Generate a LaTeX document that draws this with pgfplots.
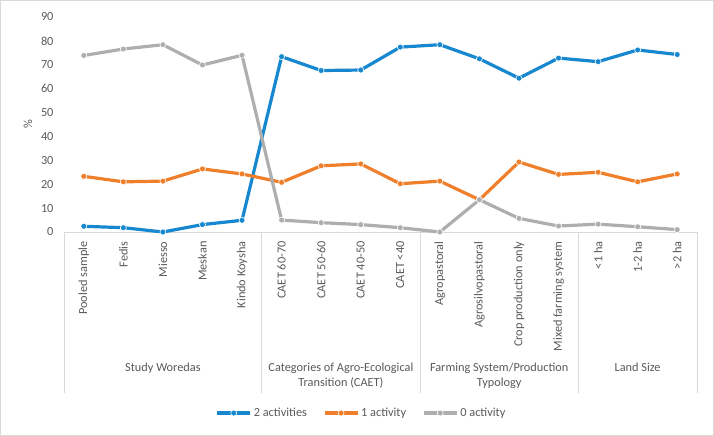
\documentclass[border=0pt]{standalone}
\usepackage{pgfplots}
\pgfplotsset{compat=1.18}
\usepackage{fontspec}
\setmainfont{Carlito}
\definecolor{cblue}{HTML}{1788D0}
\definecolor{corange}{HTML}{F07F2B}
\definecolor{cgray}{HTML}{AEAEAE}
\definecolor{ctext}{HTML}{595959}
\definecolor{cline}{HTML}{D9D9D9}
\newcommand{\fs}{\fontsize{12.3bp}{15.3bp}\selectfont}
\begin{document}
\begin{tikzpicture}
\path[use as bounding box] (0,0) rectangle (714bp,436bp);
\draw[cline, line width=0.8bp] (0.5bp,0.5bp) rectangle (713.5bp,435.5bp);
\begin{axis}[
 at={(64bp,204bp)}, anchor=south west,
 scale only axis, width=633bp, height=215bp,
 xmin=-0.5, xmax=15.5, ymin=0, ymax=90,
 ytick={0,10,...,90},
 xtick={0,...,15},
 xticklabels={Pooled sample, Fedis, Miesso, Meskan, Kindo Koysha, CAET 60-70, CAET 50-60, CAET 40-50, CAET <40, Agropastoral, Agrosilvopastoral, Crop production only, Mixed farming system, <1 ha, 1-2 ha, >2 ha},
 axis x line*=bottom, axis y line*=left,
 x axis line style={draw=cline, line width=0.8bp, -},
 y axis line style={draw=none},
 major tick length=0pt,
 tick style={draw=none},
 xticklabel style={rotate=90, anchor=east, font=\fs, text=ctext},
 yticklabel style={font=\fs, text=ctext},
 xticklabel shift=6bp, yticklabel shift=7bp,
 /pgf/number format/assume math mode=true,
 ylabel={\%},
 every axis y label/.style={at={(axis description cs:-0.0569,0.5)}, anchor=center, rotate=90, font=\fs, text=ctext},
 clip=false,
 legend columns=3,
 legend style={at={(axis description cs:0.47,-0.842)}, anchor=center, draw=none, fill=none, font=\fs, text=ctext, /tikz/every even column/.append style={column sep=14bp}},
 legend image code/.code={\draw[mark repeat=2,mark phase=2,#1] plot coordinates {(0bp,0bp) (16.5bp,0bp) (33bp,0bp)};},
 every axis plot/.append style={line width=3.2bp, mark=*, mark size=3bp},
]
\addplot[color=cblue, mark options={fill=cblue, draw=white, line width=0.6bp}] coordinates {
(0,2.4)(1,1.8)(2,0)(3,3.1)(4,4.9)(5,73.4)(6,67.6)(7,67.8)(8,77.4)(9,78.4)(10,72.5)(11,64.4)(12,72.8)(13,71.3)(14,76.2)(15,74.3)};
\addlegendentry{2 activities}
\addplot[color=corange, mark options={fill=corange, draw=white, line width=0.6bp}] coordinates {
(0,23.3)(1,21.0)(2,21.3)(3,26.4)(4,24.3)(5,20.8)(6,27.7)(7,28.5)(8,20.2)(9,21.3)(10,13.5)(11,29.3)(12,24.1)(13,25.0)(14,21.0)(15,24.3)};
\addlegendentry{1 activity}
\addplot[color=cgray, mark options={fill=cgray, draw=white, line width=0.6bp}] coordinates {
(0,73.9)(1,76.6)(2,78.4)(3,69.9)(4,74.0)(5,5.0)(6,3.9)(7,3.1)(8,1.8)(9,0)(10,13.5)(11,5.7)(12,2.5)(13,3.3)(14,2.2)(15,1.0)};
\addlegendentry{0 activity}
\draw[cline, line width=0.8bp] (axis cs:-0.5,0) -- ++(0pt,-161bp);
\draw[cline, line width=0.8bp] (axis cs:4.5,0) -- ++(0pt,-161bp);
\draw[cline, line width=0.8bp] (axis cs:8.5,0) -- ++(0pt,-161bp);
\draw[cline, line width=0.8bp] (axis cs:12.5,0) -- ++(0pt,-161bp);
\draw[cline, line width=0.8bp] (axis cs:15.5,0) -- ++(0pt,-161bp);
\node[anchor=north, align=center, font=\fs, text=ctext] at ([yshift=-127bp]axis cs:2,0) {Study Woredas};
\node[anchor=north, align=center, font=\fs, text=ctext] at ([yshift=-127bp]axis cs:6.5,0) {Categories of Agro-Ecological\\Transition (CAET)};
\node[anchor=north, align=center, font=\fs, text=ctext] at ([yshift=-127bp]axis cs:10.5,0) {Farming System/Production\\Typology};
\node[anchor=north, align=center, font=\fs, text=ctext] at ([yshift=-127bp]axis cs:14,0) {Land Size};
\end{axis}
\end{tikzpicture}
\end{document}
